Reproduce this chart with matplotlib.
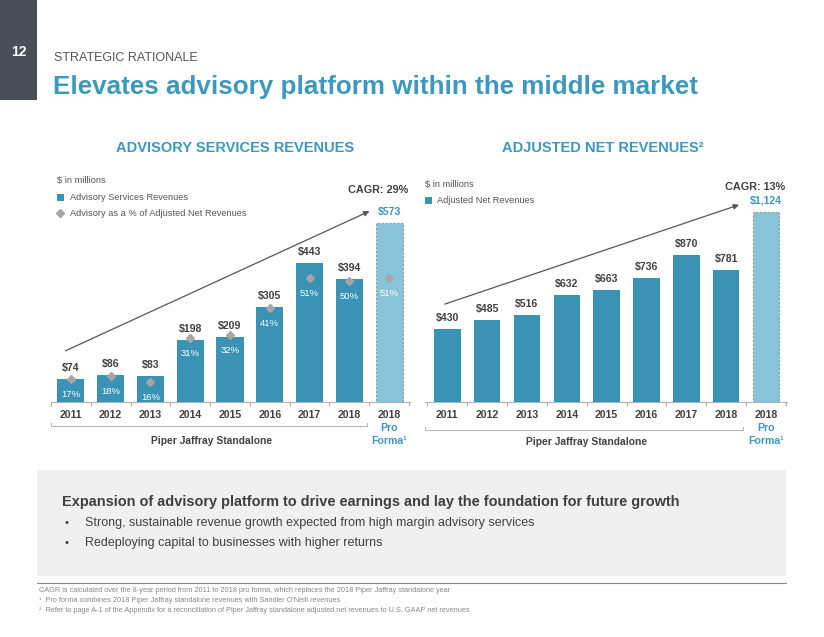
import matplotlib
matplotlib.use("Agg")
import matplotlib.pyplot as plt
from matplotlib.patches import Rectangle

plt.rcParams['font.family'] = ['Liberation Sans', 'DejaVu Sans']

# ---------------- data ----------------
years = ["2011", "2012", "2013", "2014", "2015", "2016", "2017", "2018", "2018"]
advisory = [74, 86, 83, 198, 209, 305, 443, 394, 573]
advisory_pct = [17, 18, 16, 31, 32, 41, 51, 50, 51]
adj_net = [430, 485, 516, 632, 663, 736, 870, 781, 1124]
cagr_left = "CAGR: 29%"
cagr_right = "CAGR: 13%"

W, H = 824, 637
BAR = "#3a93b4"
PF = "#88c3d8"
BLUE = "#3c98bd"
DARK = "#404040"
GRAY_D = "#a6a6a6"
LEG = 6.7
VAL = 7.6

fig = plt.figure(figsize=(W / 100, H / 100), dpi=100)

# overlay for page decorations in pixel coordinates
ov = fig.add_axes([0, 0, 1, 1])
ov.set_xlim(0, W)
ov.set_ylim(H, 0)
ov.axis("off")

ov.add_patch(Rectangle((0, 0), 37, 100, color="#4a4f57", lw=0))
ov.text(19, 52, "12", color="white", fontsize=10, fontweight="bold", ha="center", va="center")
ov.text(54, 58, "STRATEGIC RATIONALE", color="#555555", fontsize=9, ha="left", va="center")
ov.text(53, 87, "Elevates advisory platform within the middle market", color=BLUE,
        fontsize=18.7, fontweight="bold", ha="left", va="center")

ov.text(235, 148, "ADVISORY SERVICES REVENUES", color=BLUE, fontsize=10.5, fontweight="bold",
        ha="center", va="center")
ov.text(603, 148, "ADJUSTED NET REVENUES²", color=BLUE, fontsize=10.5, fontweight="bold",
        ha="center", va="center")

# left legend
ov.text(57, 181, "$ in millions", color="#555555", fontsize=LEG, ha="left", va="center")
ov.add_patch(Rectangle((57, 193.5), 7, 7, color=BAR, lw=0))
ov.text(70, 197, "Advisory Services Revenues", color="#555555", fontsize=LEG, ha="left", va="center")
ov.plot([60.5], [213], marker="D", color=GRAY_D, markersize=4.5, ls="none")
ov.text(70, 213, "Advisory as a % of Adjusted Net Revenues", color="#555555", fontsize=LEG,
        ha="left", va="center")

# right legend
ov.text(425, 185, "$ in millions", color="#555555", fontsize=LEG, ha="left", va="center")
ov.add_patch(Rectangle((425, 197), 7, 7, color=BAR, lw=0))
ov.text(437, 200.5, "Adjusted Net Revenues", color="#555555", fontsize=LEG, ha="left", va="center")

# bottom box
ov.add_patch(Rectangle((37, 470), 749, 106, color="#f0f0f0", lw=0))
ov.text(62, 502, "Expansion of advisory platform to drive earnings and lay the foundation for future growth",
        color=DARK, fontsize=10.45, fontweight="bold", ha="left", va="center")
ov.text(65, 523, "•", color=DARK, fontsize=8, ha="left", va="center")
ov.text(85, 523, "Strong, sustainable revenue growth expected from high margin advisory services",
        color=DARK, fontsize=9, ha="left", va="center")
ov.text(65, 543, "•", color=DARK, fontsize=8, ha="left", va="center")
ov.text(85, 543, "Redeploying capital to businesses with higher returns",
        color=DARK, fontsize=9, ha="left", va="center")
ov.plot([37, 786], [583, 583], color="#888888", lw=0.8)
fn = ["CAGR is calculated over the 8-year period from 2011 to 2018 pro forma, which replaces the 2018 Piper Jaffray standalone year",
      "¹  Pro forma combines 2018 Piper Jaffray standalone revenues with Sandler O'Neill revenues",
      "²  Refer to page A-1 of the Appendix for a reconciliation of Piper Jaffray standalone adjusted net revenues to U.S. GAAP net revenues"]
for i, t in enumerate(fn):
    ov.text(39, 591 + i * 9.7, t, color="#888888", fontsize=5.28, ha="left", va="center")


def px_axes(x0, x1, ytop, ybot):
    ax = fig.add_axes([x0 / W, 1 - ybot / H, (x1 - x0) / W, (ybot - ytop) / H])
    ax.patch.set_visible(False)
    return ax


def style_axis(ax, n):
    for s in ["top", "right", "left"]:
        ax.spines[s].set_visible(False)
    ax.spines["bottom"].set_color("#b0b0b0")
    ax.spines["bottom"].set_linewidth(0.8)
    ax.set_yticks([])
    ax.set_xticks([i + 0.5 for i in range(-1, n)], minor=False)
    ax.set_xticklabels([])
    ax.tick_params(axis="x", length=3, color="#b0b0b0", width=0.8)
    for i, y in enumerate(years):
        ax.text(i, -0.053, y, transform=ax.get_xaxis_transform(), ha="center", va="center",
                fontsize=VAL, fontweight="bold", color=DARK)


n = len(years)
xs = list(range(n))

# ---------------- left chart ----------------
axL = px_axes(51, 410, 160, 402)
axL.bar(xs[:-1], advisory[:-1], width=0.68, color=BAR, zorder=2)
axL.bar(xs[-1], advisory[-1], width=0.68, color=PF, edgecolor="#8a9aa3", linestyle=(0, (2, 1.5)),
        linewidth=0.8, zorder=2)
axL.set_xlim(-0.476, 8.526)
axL.set_ylim(0, 774)
style_axis(axL, n)
for i, v in enumerate(advisory):
    col = BLUE if i == n - 1 else DARK
    axL.annotate(f"${v}", (i, v), xytext=(0, 8), textcoords="offset points", ha="center",
                 va="center", fontsize=VAL, fontweight="bold", color=col)
axL.annotate("", xy=(7.57, 614), xytext=(-0.2, 160),
             arrowprops=dict(arrowstyle="-|>", color="#555555", lw=0.9, mutation_scale=8))
ov.text(408, 190, cagr_left, color=DARK, fontsize=7.8, fontweight="bold", ha="right", va="center")

tw = axL.twinx()
tw.patch.set_visible(False)
tw.set_ylim(9.36, 90.84)
tw.axis("off")
tw.plot(xs, advisory_pct, ls="none", marker="D", color=GRAY_D, markersize=4.5, zorder=3)
for i, p in enumerate(advisory_pct):
    tw.annotate(f"{p}%", (i, p), xytext=(0, -11), textcoords="offset points", ha="center",
                va="center", fontsize=6.8, color="white")

# bracket left
ov.plot([51, 51, 367, 367], [423, 426, 426, 423], color="#b8b8b8", lw=0.8)
ov.text(212, 441, "Piper Jaffray Standalone", color=DARK, fontsize=7.4, fontweight="bold",
        ha="center", va="center")
ov.text(389, 428, "Pro", color=BLUE, fontsize=VAL, fontweight="bold", ha="center", va="center")
ov.text(389, 441, "Forma¹", color=BLUE, fontsize=VAL, fontweight="bold", ha="center", va="center")

# ---------------- right chart ----------------
axR = px_axes(425, 787, 160, 402)
axR.bar(xs[:-1], adj_net[:-1], width=0.665, color=BAR, zorder=2)
axR.bar(xs[-1], adj_net[-1], width=0.665, color=PF, edgecolor="#8a9aa3", linestyle=(0, (2, 1.5)),
        linewidth=0.8, zorder=2)
axR.set_xlim(-0.56, 8.527)
axR.set_ylim(0, 1432)
style_axis(axR, n)
for i, v in enumerate(adj_net):
    col = BLUE if i == n - 1 else DARK
    axR.annotate(f"${v:,}", (i, v), xytext=(0, 8), textcoords="offset points", ha="center",
                 va="center", fontsize=VAL, fontweight="bold", color=col)
axR.annotate("", xy=(7.39, 1172), xytext=(-0.13, 574),
             arrowprops=dict(arrowstyle="-|>", color="#555555", lw=0.9, mutation_scale=8))
ov.text(785, 187, cagr_right, color=DARK, fontsize=7.8, fontweight="bold", ha="right", va="center")

ov.plot([425, 425, 743, 743], [427, 430, 430, 427], color="#b8b8b8", lw=0.8)
ov.text(587, 442, "Piper Jaffray Standalone", color=DARK, fontsize=7.4, fontweight="bold",
        ha="center", va="center")
ov.text(766, 428, "Pro", color=BLUE, fontsize=VAL, fontweight="bold", ha="center", va="center")
ov.text(766, 441, "Forma¹", color=BLUE, fontsize=VAL, fontweight="bold", ha="center", va="center")

fig.savefig("out.png", dpi=100)
